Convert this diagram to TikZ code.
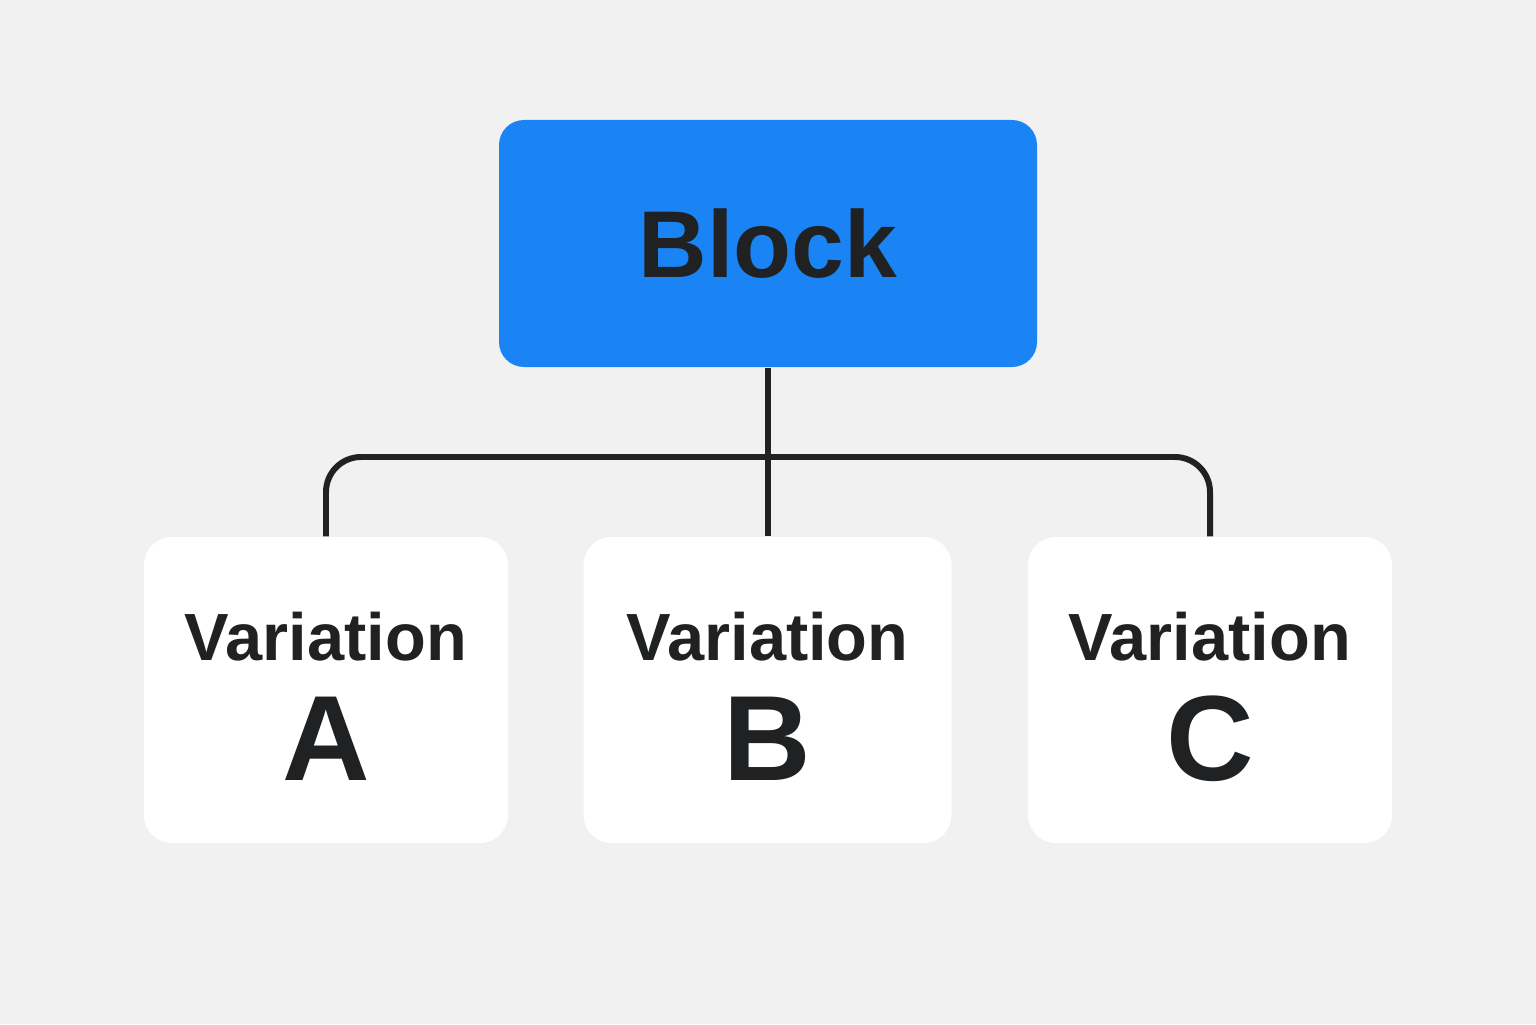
\documentclass[tikz,border=0pt]{standalone}
\usepackage{fontspec}
\setmainfont{Liberation Sans}
\usetikzlibrary{calc}
\definecolor{bgcol}{HTML}{F1F1F1}
\definecolor{blockblue}{HTML}{1A84F5}
\definecolor{inkcol}{HTML}{1F2123}

\begin{document}
\begin{tikzpicture}
    \fill[bgcol] (0,0) rectangle (15.36,10.24);
    \useasboundingbox (0,0) rectangle (15.36,10.24);
    \node[fill=blockblue, minimum width=53.8mm, minimum height=24.7mm, rounded corners=2.5mm, rectangle,
          font=\fontsize{27}{30}\selectfont\bfseries, text=inkcol] (block) at (7.68,7.805) {Block};
    \foreach \nm/\x/\w in {A/3.26/36.4, B/7.675/36.8, C/12.10/36.4}{
      \node[fill=white, minimum width=\w mm, minimum height=30.6mm, rounded corners=2.8mm, rectangle] (v\nm) at (\x,3.34) {};
      \node[anchor=base, text=inkcol, font=\fontsize{19}{22}\selectfont\bfseries] (t\nm) at ($(v\nm.center)+(0,0.30)$) {Variation};
      \node[anchor=base, text=inkcol, font=\fontsize{34.5}{38}\selectfont\bfseries] (l\nm) at ($(v\nm.center)+(0,-0.90)$) {\nm};
    }
    \coordinate (bar) at (7.68,5.67);
    \draw[inkcol, line width=1.7pt] (block.south) -- (block.south |- vB.north);
    \draw[inkcol, line width=1.7pt, rounded corners=3.5mm] (vA.north) |- (bar) -| (vC.north);
  \end{tikzpicture}
\end{document}
